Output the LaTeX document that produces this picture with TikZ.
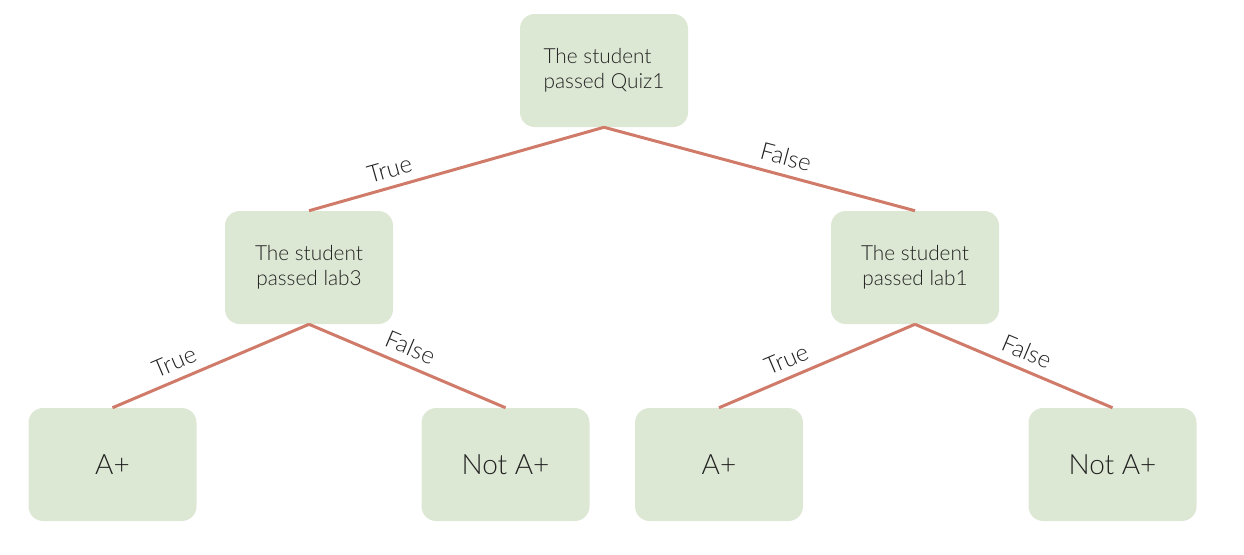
\documentclass[tikz,border=0pt]{standalone}
\usepackage{fontspec}
\setmainfont{Lato Light}
\usepackage{tikz}
\usetikzlibrary{positioning}
\definecolor{boxgreen}{HTML}{DDE8D4}
\definecolor{edgered}{HTML}{D07B69}
\definecolor{inkgray}{HTML}{222222}

\begin{document}
\begin{tikzpicture}[x=0.75pt, y=-0.75pt,
					every node/.style={text=inkgray},
					decbox/.style={fill=boxgreen, rounded corners=11pt, minimum width=126pt, minimum height=84.75pt,
						inner sep=0pt, font=\fontsize{15.6}{18.5}\selectfont},
					leafbox/.style={decbox, font=\fontsize{21}{25}\selectfont},
					branch/.style={draw=edgered, line width=2.25pt},
					lbl/.style={sloped, above, inner sep=6pt, font=\fontsize{18}{21}\selectfont}
				]
				\useasboundingbox (0,0) rectangle (1244,554);
				\node[decbox, align=left] (quiz) at (604,70.5) {The student\\passed Quiz1};
				\node[decbox, align=center] (labA) at (309,267.5) {The student\\passed lab3};
				\node[decbox, align=center] (labB) at (915,267.5) {The student\\passed lab1};
				\node[leafbox] (yesA) at (112.5,464.5) {A+};
				\node[leafbox] (noA) at (505.5,464.5) {Not A+};
				\node[leafbox] (yesB) at (719,464.5) {A+};
				\node[leafbox] (noB) at (1112.5,464.5) {Not A+};
				
				\draw[branch] (quiz.south) -- node[lbl, pos=.71] {True} (labA.north);
				\draw[branch] (quiz.south) -- node[lbl, pos=.57] {False} (labB.north);
				\draw[branch] (labA.south) -- node[lbl, pos=.65] {True} (yesA.north);
				\draw[branch] (labA.south) -- node[lbl, pos=.48] {False} (noA.north);
				\draw[branch] (labB.south) -- node[lbl, pos=.62] {True} (yesB.north);
				\draw[branch] (labB.south) -- node[lbl, pos=.53] {False} (noB.north);
			\end{tikzpicture}
\end{document}
